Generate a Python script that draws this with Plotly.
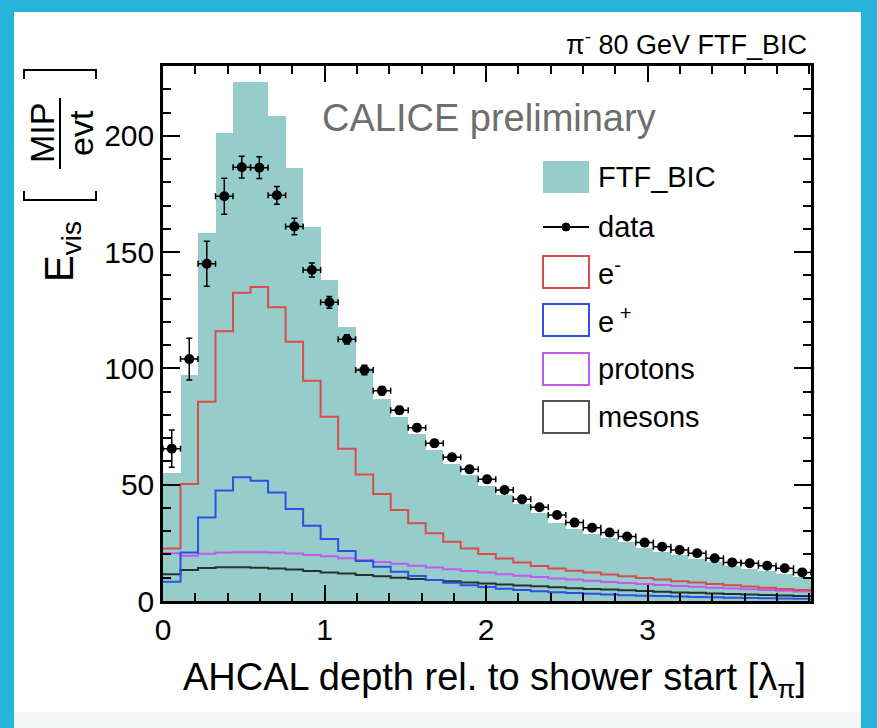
import plotly.graph_objects as go

# ---------------- data ----------------
bin_width = 0.1084          # lambda_pi per bin
n_bins = 37

mc_ftf_bic = [55, 97, 158, 201, 223, 223, 208.5, 186, 161, 138, 118, 100, 87, 79,
              72, 65, 59, 54, 49.5, 45.5, 41.5, 38, 33.5, 31, 29, 27, 25.3, 23,
              21.2, 19.6, 18.2, 16.6, 15.1, 13.8, 12.7, 11.6, 10.5]

data_vals = [65.5, 104, 145, 174, 186.5, 186.3, 174.4, 161, 142.3, 128.4, 112.5, 99.3,
             90.4, 82, 74.5, 67.8, 61.8, 56.6, 52.3, 47.7, 43.7, 40.3, 37.0, 33.7,
             31.5, 29.4, 27.7, 25.1, 23.3, 21.9, 20.5, 18.4, 16.6, 16.2, 15.2, 14.1, 12.3]
data_err = [8, 9, 9.7, 7.7, 4.7, 4.7, 3.8, 3.6, 3, 2.5, 2, 2, 1.8, 1.6, 1.5, 1.5, 1.4,
            1.4, 1.3, 1.3, 1.2, 1.2, 1.1, 1.1, 1, 1, 1, 1, 0.9, 0.9, 0.9, 0.9, 0.8,
            0.8, 0.8, 0.8, 0.8]

e_minus = [22.6, 50.3, 85.7, 116, 132.5, 135, 126.3, 111.5, 94.7, 79.2, 65.4, 54.4,
           46, 39.1, 33.4, 29.1, 25.5, 22.6, 20.2, 18.3, 16.5, 15.0, 14.0, 13.0, 12.2,
           11.4, 10.6, 9.9, 9.2, 8.5, 7.9, 7.3, 6.8, 6.2, 5.7, 5.2, 4.7]

e_plus = [8.3, 20.8, 35.9, 47.5, 53.2, 51.7, 46.6, 39.6, 32.4, 26.7, 21.5, 17.2, 14.7,
          12.6, 10.7, 9.0, 7.8, 6.8, 6.0, 5.3, 4.7, 4.2, 3.8, 3.4, 3.1, 2.8, 2.5, 2.3,
          2.1, 1.9, 1.7, 1.6, 1.4, 1.3, 1.2, 1.1, 1.0]

protons = [20.5, 19.5, 20.3, 20.8, 21, 21, 20.8, 20.4, 19.8, 19.2, 18.4, 17.6, 16.8,
           16.0, 15.2, 14.4, 13.6, 12.9, 12.2, 11.5, 10.9, 10.3, 9.7, 9.2, 8.7, 8.2,
           7.7, 7.3, 6.9, 6.5, 6.1, 5.7, 5.4, 5.0, 4.7, 4.4, 4.1]

mesons = [11.5, 13.3, 14.2, 14.5, 14.5, 14.3, 14, 13.5, 12.9, 12.3, 11.8, 11.2, 10.6,
          10.0, 9.5, 9.0, 8.5, 8.0, 7.5, 7.1, 6.7, 6.3, 5.9, 5.5, 5.2, 4.9, 4.6, 4.3,
          4.0, 3.7, 3.5, 3.2, 3.0, 2.8, 2.6, 2.4, 2.2]

x_ticks = [0, 1, 2, 3]
y_ticks = [0, 50, 100, 150, 200]

# ---------------- styling ----------------
W, H = 877, 728
ML, MR, MT, MB = 163, 66, 66, 127
FONT = "Liberation Sans, Arial, sans-serif"
TEAL = "#96CDCB"
RED = "#DA4B4B"
BLUE = "#2F4FE3"
MAG = "#C25AF0"
DARK = "#24332F"
CYAN = "#27B4DA"

centers = [(i + 0.5) * bin_width for i in range(n_bins)]
edges = [i * bin_width for i in range(n_bins + 1)]


def px(x):
    return (x - ML) / (W - ML - MR)


def py(y):
    return (H - MB - y) / (H - MT - MB)


fig = go.Figure()
fig.add_trace(go.Bar(x=centers, y=mc_ftf_bic, width=bin_width,
                     marker=dict(color=TEAL, line=dict(width=0)), showlegend=False))


def step(vals, color):
    fig.add_trace(go.Scatter(x=edges, y=vals + [vals[-1]], mode="lines",
                             line=dict(color=color, width=2, shape="hv"),
                             showlegend=False, hoverinfo="skip"))


step(mesons, DARK)
step(protons, MAG)
step(e_plus, BLUE)
step(e_minus, RED)

fig.add_trace(go.Scatter(
    x=centers, y=data_vals, mode="markers",
    marker=dict(color="black", size=10),
    error_x=dict(type="constant", value=bin_width / 2, color="black", thickness=1.5, width=3),
    error_y=dict(type="data", array=data_err, color="black", thickness=1.5, width=3),
    showlegend=False))

shapes = []
# white panel inside cyan frame
shapes.append(dict(type="rect", xref="paper", yref="paper", layer="below",
                   x0=px(14), x1=px(861), y0=py(12), y1=py(712),
                   fillcolor="white", line=dict(width=0)))
shapes.append(dict(type="rect", xref="paper", yref="paper", layer="below",
                   x0=px(14), x1=px(861), y0=py(712), y1=py(728),
                   fillcolor="#F4F6F6", line=dict(width=0)))

annotations = []
# legend (drawn by hand, like the ROOT legend)
lx0, lx1 = 543, 589
legend_rows = [(177, "FTF_BIC", "fill", TEAL), (227, "data", "data", "black"),
               (272, "e<sup>-</sup>", "box", RED), (320, "e<sup> +</sup>", "box", BLUE),
               (369, "protons", "box", MAG), (417, "mesons", "box", "#555555")]
for yc, label, kind, col in legend_rows:
    if kind == "fill":
        shapes.append(dict(type="rect", xref="paper", yref="paper",
                           x0=px(lx0), x1=px(lx1), y0=py(yc - 16), y1=py(yc + 16),
                           fillcolor=col, line=dict(width=0)))
    elif kind == "box":
        shapes.append(dict(type="rect", xref="paper", yref="paper",
                           x0=px(lx0), x1=px(lx1), y0=py(yc - 16), y1=py(yc + 16),
                           fillcolor="rgba(0,0,0,0)", line=dict(color=col, width=2)))
    else:
        shapes.append(dict(type="line", xref="paper", yref="paper",
                           x0=px(lx0), x1=px(lx1), y0=py(yc), y1=py(yc),
                           line=dict(color="black", width=2)))
        shapes.append(dict(type="circle", xref="paper", yref="paper",
                           x0=px(562), x1=px(570), y0=py(yc - 4), y1=py(yc + 4),
                           fillcolor="black", line=dict(color="black", width=1)))
    annotations.append(dict(text=label, xref="paper", yref="paper", x=px(596), y=py(yc),
                            xanchor="left", yanchor="middle", showarrow=False,
                            font=dict(family=FONT, size=29, color="black")))

annotations.append(dict(text="CALICE preliminary", xref="paper", yref="paper",
                        x=px(320), y=py(118), xanchor="left", yanchor="middle",
                        showarrow=False, font=dict(family=FONT, size=38, color="#6E6E6E")))
annotations.append(dict(text="π<sup>-</sup> 80 GeV FTF_BIC", xref="paper", yref="paper",
                        x=px(809), y=py(43), xanchor="right", yanchor="middle",
                        showarrow=False, font=dict(family=FONT, size=27, color="black")))
annotations.append(dict(text="AHCAL depth rel. to shower start [λ<sub>π</sub>]",
                        xref="paper", yref="paper", x=px(808), y=py(680),
                        xanchor="right", yanchor="middle", showarrow=False,
                        font=dict(family=FONT, size=38, color="black")))
# y title: E_vis [MIP/evt]
annotations.append(dict(text="E<sub>vis</sub>", xref="paper", yref="paper",
                        x=px(62), y=py(252), xanchor="center", yanchor="middle",
                        textangle=-90, showarrow=False,
                        font=dict(family=FONT, size=40, color="black")))
annotations.append(dict(text="MIP", xref="paper", yref="paper",
                        x=px(42), y=py(133), xanchor="center", yanchor="middle",
                        textangle=-90, showarrow=False,
                        font=dict(family=FONT, size=34, color="black")))
annotations.append(dict(text="evt", xref="paper", yref="paper",
                        x=px(81), y=py(133), xanchor="center", yanchor="middle",
                        textangle=-90, showarrow=False,
                        font=dict(family=FONT, size=34, color="black")))
shapes.append(dict(type="line", xref="paper", yref="paper",
                   x0=px(60), x1=px(60), y0=py(98), y1=py(169),
                   line=dict(color="black", width=2)))
shapes.append(dict(type="path", xref="paper", yref="paper",
                   path="M {0},{1} L {0},{2} L {3},{2} L {3},{1}".format(
                       px(24), py(79), py(70), px(96)),
                   line=dict(color="black", width=2)))
shapes.append(dict(type="path", xref="paper", yref="paper",
                   path="M {0},{1} L {0},{2} L {3},{2} L {3},{1}".format(
                       px(24), py(191), py(200), px(96)),
                   line=dict(color="black", width=2)))

axis_common = dict(showline=True, linecolor="black", linewidth=2.5, mirror="ticks",
                   ticks="inside", tickcolor="black", tickwidth=1.5, showgrid=False,
                   zeroline=False, tickfont=dict(family=FONT, size=30, color="black"))

fig.update_layout(
    width=W, height=H,
    margin=dict(l=ML, r=MR, t=MT, b=MB),
    paper_bgcolor=CYAN, plot_bgcolor="white",
    bargap=0,
    shapes=shapes, annotations=annotations,
    xaxis=dict(range=[0, n_bins * bin_width], tickvals=x_ticks, ticklen=16,
               minor=dict(ticks="inside", dtick=0.2, ticklen=8, tickcolor="black", tickwidth=1.5),
               **axis_common),
    yaxis=dict(range=[0, 230], tickvals=y_ticks, ticklen=17,
               minor=dict(ticks="inside", dtick=10, ticklen=8, tickcolor="black", tickwidth=1.5),
               **axis_common),
)

fig.write_html("out.html")
